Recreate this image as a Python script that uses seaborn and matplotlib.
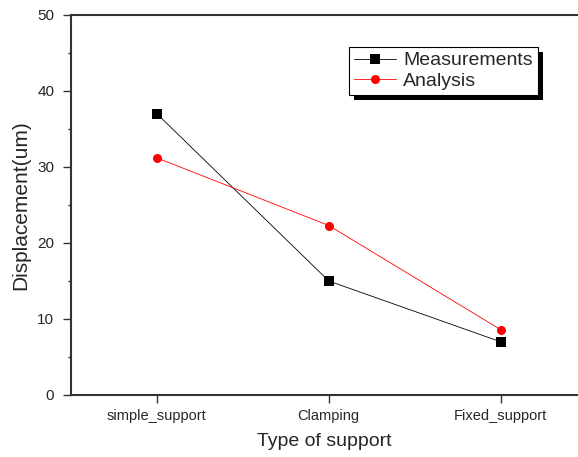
import matplotlib
matplotlib.use("Agg")
import matplotlib.pyplot as plt
import pandas as pd
import seaborn as sns
from matplotlib.patches import Rectangle

supports = ["simple_support", "Clamping", "Fixed_support"]
measurements = [37.0, 15.0, 7.0]
analysis = [31.2, 22.3, 8.6]

df = pd.DataFrame({
    "support": supports * 2,
    "value": measurements + analysis,
    "series": ["Measurements"] * 3 + ["Analysis"] * 3,
})

sns.set_style("white")
plt.rcParams["font.family"] = ["Liberation Sans", "DejaVu Sans"]

fig = plt.figure(figsize=(5.78, 4.57), dpi=100)
ax = fig.add_axes([71 / 578, 62 / 457, 1 - 71 / 578, 380 / 457])

sns.lineplot(
    data=df, x="support", y="value", hue="series", style="series",
    palette={"Measurements": "black", "Analysis": "red"},
    markers={"Measurements": "s", "Analysis": "o"},
    dashes=False, linewidth=0.6, markersize=6.5, markeredgewidth=0,
    ax=ax,
)

ax.set_xlim(-0.5, 2.45)
ax.set_ylim(0, 50)
ax.set_yticks([0, 10, 20, 30, 40, 50])
ax.set_yticks([5, 15, 25, 35, 45], minor=True)
ax.tick_params(axis="both", which="major", direction="out", length=6, width=1,
               color="#333333", left=True, bottom=True)
ax.tick_params(axis="y", which="major", labelsize=11, pad=6)
ax.tick_params(axis="x", which="major", labelsize=10.5, pad=4)
ax.tick_params(axis="y", which="minor", direction="out", length=2.5, width=1,
               color="#333333", left=True)
for side in ["left", "bottom", "top"]:
    ax.spines[side].set_color("#333333")
    ax.spines[side].set_linewidth(1.5)
ax.spines["right"].set_visible(False)

ax.set_xlabel("Type of support", fontsize=14, labelpad=7)
ax.set_ylabel("Displacement(um)", fontsize=15, labelpad=5)

leg = ax.legend(
    loc="upper left", bbox_to_anchor=(0.548, 0.916), borderaxespad=0,
    frameon=True, fancybox=False, edgecolor="black", framealpha=1,
    fontsize=14, title=None,
    handlelength=2.2, handletextpad=0.35, labelspacing=0.15,
    borderpad=0.25,
)
leg.get_frame().set_linewidth(0.8)
leg.set_zorder(6)

# solid black drop shadow, offset like the original
fig.canvas.draw()
bb = leg.get_frame().get_window_extent()
shadow = Rectangle((bb.x0 + 5, bb.y0 - 5), bb.width, bb.height,
                   facecolor="black", edgecolor="none", transform=None,
                   clip_on=False, zorder=5.5)
ax.add_patch(shadow)

fig.savefig("out.png", dpi=100)
